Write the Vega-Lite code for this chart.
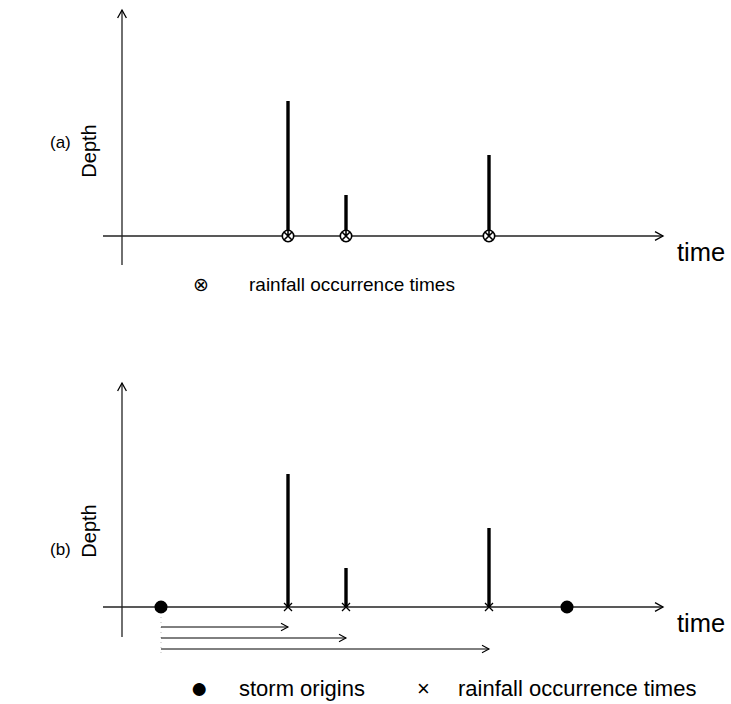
{
  "$schema": "https://vega.github.io/schema/vega-lite/v6.json",
  "width": 731,
  "height": 704,
  "autosize": {"type": "fit", "contains": "padding"},
  "padding": 0,
  "background": "white",
  "view": {"stroke": null},
  "config": {"font": "Liberation Sans"},
  "datasets": {
    "axes": [
      {"panel": "a", "x": 103, "y": 236, "x2": 663, "y2": 236},
      {"panel": "a", "x": 122, "y": 10, "x2": 122, "y2": 265},
      {"panel": "b", "x": 103, "y": 607, "x2": 663, "y2": 607},
      {"panel": "b", "x": 122, "y": 383, "x2": 122, "y2": 637}
    ],
    "axisHeads": [
      {"panel": "a", "x": 663, "y": 236, "dir": "right"},
      {"panel": "a", "x": 122, "y": 10, "dir": "up"},
      {"panel": "b", "x": 663, "y": 607, "dir": "right"},
      {"panel": "b", "x": 122, "y": 383, "dir": "up"}
    ],
    "rain": [
      {"panel": "a", "time": 288, "base": 236, "top": 101},
      {"panel": "a", "time": 346, "base": 236, "top": 195},
      {"panel": "a", "time": 489, "base": 236, "top": 155},
      {"panel": "b", "time": 288, "base": 607, "top": 474},
      {"panel": "b", "time": 346, "base": 607, "top": 568},
      {"panel": "b", "time": 489, "base": 607, "top": 528}
    ],
    "storms": [
      {"time": 161, "y": 607},
      {"time": 567, "y": 607}
    ],
    "delays": [
      {"start": 161, "end": 288, "y": 627},
      {"start": 161, "end": 346, "y": 638},
      {"start": 161, "end": 489, "y": 649}
    ],
    "guide": [
      {"x": 161, "y": 607, "y2": 657}
    ],
    "panelLabels": [
      {"text": "(a)", "x": 50, "y": 143},
      {"text": "(b)", "x": 50, "y": 550}
    ],
    "timeLabels": [
      {"text": "time", "x": 677, "y": 253},
      {"text": "time", "x": 677, "y": 624}
    ],
    "legendA": [
      {"text": "⊗", "x": 193, "y": 285},
      {"text": "rainfall occurrence times", "x": 249, "y": 285}
    ],
    "legendB": [
      {"text": "storm origins", "x": 239, "y": 689},
      {"text": "×", "x": 417, "y": 689},
      {"text": "rainfall occurrence times", "x": 458, "y": 689}
    ],
    "legendDot": [
      {"text": "●", "x": 199, "y": 689}
    ],
    "ylabels": [
      {"text": "Depth", "x": 90, "y": 151},
      {"text": "Depth", "x": 90, "y": 531}
    ]
  },
  "layer": [
    {
      "data": {"name": "guide"},
      "mark": {"type": "rule", "color": "#bbbbbb", "strokeWidth": 1, "strokeDash": [1, 4]},
      "encoding": {
        "x": {"field": "x", "type": "quantitative", "scale": {"domain": [0, 731], "nice": false, "zero": false}, "axis": null},
        "y": {"field": "y", "type": "quantitative", "scale": {"domain": [0, 704], "reverse": true, "nice": false, "zero": false}, "axis": null},
        "y2": {"field": "y2"}
      }
    },
    {
      "data": {"name": "axes"},
      "mark": {"type": "rule", "color": "#222222", "strokeWidth": 1.3},
      "encoding": {
        "x": {"field": "x", "type": "quantitative"},
        "y": {"field": "y", "type": "quantitative"},
        "x2": {"field": "x2"},
        "y2": {"field": "y2"}
      }
    },
    {
      "data": {"name": "axisHeads"},
      "mark": {"type": "point", "shape": "M-1,-0.55L0,0L-1,0.55", "filled": false, "color": "black", "strokeWidth": 1.3, "size": 256, "opacity": 1},
      "encoding": {
        "x": {"field": "x", "type": "quantitative"},
        "y": {"field": "y", "type": "quantitative"},
        "angle": {"field": "dir", "type": "nominal", "scale": {"domain": ["right", "up"], "range": [0, 270]}, "legend": null}
      }
    },
    {
      "data": {"name": "rain"},
      "mark": {"type": "rule", "color": "black", "strokeWidth": 3.4},
      "encoding": {
        "x": {"field": "time", "type": "quantitative"},
        "y": {"field": "base", "type": "quantitative"},
        "y2": {"field": "top"}
      }
    },
    {
      "data": {"name": "rain"},
      "transform": [{"filter": "datum.panel == 'a'"}],
      "mark": {"type": "point", "shape": "circle", "filled": true, "fill": "white", "stroke": "black", "strokeWidth": 1.6, "size": 130, "opacity": 1},
      "encoding": {
        "x": {"field": "time", "type": "quantitative"},
        "y": {"field": "base", "type": "quantitative"}
      }
    },
    {
      "data": {"name": "rain"},
      "transform": [{"filter": "datum.panel == 'a'"}],
      "mark": {"type": "point", "shape": "M-0.7,-0.7L0.7,0.7M-0.7,0.7L0.7,-0.7M0,-1L0,0", "filled": false, "stroke": "black", "strokeWidth": 1.6, "size": 130, "opacity": 1},
      "encoding": {
        "x": {"field": "time", "type": "quantitative"},
        "y": {"field": "base", "type": "quantitative"}
      }
    },
    {
      "data": {"name": "rain"},
      "transform": [{"filter": "datum.panel == 'b'"}],
      "mark": {"type": "point", "shape": "M-1,-1L1,1M-1,1L1,-1", "filled": false, "stroke": "black", "strokeWidth": 1.3, "size": 64, "opacity": 1},
      "encoding": {
        "x": {"field": "time", "type": "quantitative"},
        "y": {"field": "base", "type": "quantitative"}
      }
    },
    {
      "data": {"name": "storms"},
      "mark": {"type": "point", "shape": "circle", "filled": true, "color": "black", "size": 170, "opacity": 1},
      "encoding": {
        "x": {"field": "time", "type": "quantitative"},
        "y": {"field": "y", "type": "quantitative"}
      }
    },
    {
      "data": {"name": "delays"},
      "mark": {"type": "rule", "color": "black", "strokeWidth": 1},
      "encoding": {
        "x": {"field": "start", "type": "quantitative"},
        "x2": {"field": "end"},
        "y": {"field": "y", "type": "quantitative"}
      }
    },
    {
      "data": {"name": "delays"},
      "mark": {"type": "point", "shape": "M-1,-0.55L0,0L-1,0.55", "filled": false, "color": "black", "strokeWidth": 1.1, "size": 196, "opacity": 1},
      "encoding": {
        "x": {"field": "end", "type": "quantitative"},
        "y": {"field": "y", "type": "quantitative"}
      }
    },
    {
      "data": {"name": "panelLabels"},
      "mark": {"type": "text", "align": "left", "baseline": "middle", "color": "black", "fontSize": 17, "font": "Liberation Sans"},
      "encoding": {
        "x": {"field": "x", "type": "quantitative"},
        "y": {"field": "y", "type": "quantitative"},
        "text": {"field": "text"}
      }
    },
    {
      "data": {"name": "timeLabels"},
      "mark": {"type": "text", "align": "left", "baseline": "middle", "color": "black", "fontSize": 25.5, "font": "Liberation Sans"},
      "encoding": {
        "x": {"field": "x", "type": "quantitative"},
        "y": {"field": "y", "type": "quantitative"},
        "text": {"field": "text"}
      }
    },
    {
      "data": {"name": "legendA"},
      "mark": {"type": "text", "align": "left", "baseline": "middle", "color": "black", "fontSize": 19, "font": "Liberation Sans"},
      "encoding": {
        "x": {"field": "x", "type": "quantitative"},
        "y": {"field": "y", "type": "quantitative"},
        "text": {"field": "text"}
      }
    },
    {
      "data": {"name": "legendB"},
      "mark": {"type": "text", "align": "left", "baseline": "middle", "color": "black", "fontSize": 22, "font": "Liberation Sans"},
      "encoding": {
        "x": {"field": "x", "type": "quantitative"},
        "y": {"field": "y", "type": "quantitative"},
        "text": {"field": "text"}
      }
    },
    {
      "data": {"name": "legendDot"},
      "mark": {"type": "text", "align": "center", "baseline": "middle", "color": "black", "fontSize": 30, "font": "Liberation Sans"},
      "encoding": {
        "x": {"field": "x", "type": "quantitative"},
        "y": {"field": "y", "type": "quantitative"},
        "text": {"field": "text"}
      }
    },
    {
      "data": {"name": "ylabels"},
      "mark": {"type": "text", "align": "center", "baseline": "middle", "angle": 270, "fontSize": 20, "color": "black", "font": "Liberation Sans"},
      "encoding": {
        "x": {"field": "x", "type": "quantitative"},
        "y": {"field": "y", "type": "quantitative"},
        "text": {"field": "text"}
      }
    }
  ]
}
